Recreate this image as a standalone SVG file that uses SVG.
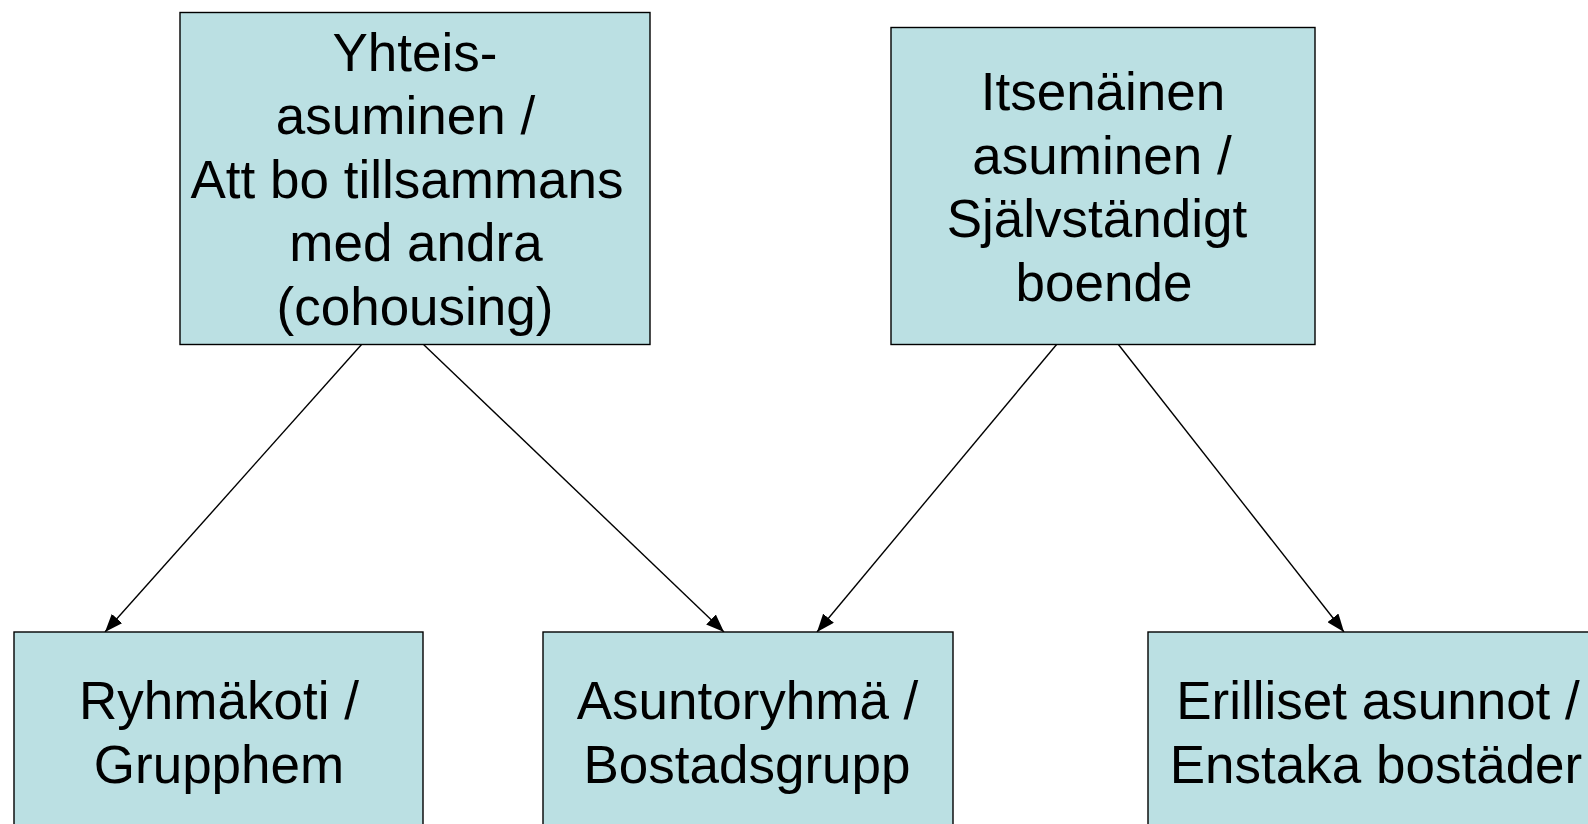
<svg xmlns="http://www.w3.org/2000/svg" width="1588" height="824" viewBox="0 0 1588 824">
<defs>
<style>
.box{fill:#BBE0E3;stroke:#000;stroke-width:1.4}
.t{font-family:"Liberation Sans",Arial,sans-serif;font-size:53px;fill:#000;text-anchor:middle}
.c{stroke:#000;stroke-width:1.4;fill:none;marker-end:url(#ah)}
</style>
<marker id="ah" markerUnits="userSpaceOnUse" markerWidth="20" markerHeight="14" refX="18" refY="7" orient="auto">
<path d="M0,0 L18,7 L0,14 Z" fill="#000"/>
</marker>
</defs>
<rect width="1588" height="824" fill="#fff"/>
<g id="connectors">
<line class="c" x1="362" y1="344" x2="105" y2="632"/>
<line class="c" x1="423" y1="344" x2="724" y2="632"/>
<line class="c" x1="1057" y1="344" x2="817" y2="632"/>
<line class="c" x1="1118" y1="344" x2="1344" y2="632"/>
</g>
<g id="node-yhteis">
<rect class="box" x="180" y="12.5" width="470" height="332"/>
<text class="t"><tspan x="415" y="70.5">Yhteis-</tspan><tspan x="405.5" y="134">asuminen /</tspan><tspan x="407" y="197.5">Att bo tillsammans</tspan><tspan x="416" y="261">med andra</tspan><tspan x="415" y="324.5">(cohousing)</tspan></text>
</g>
<g id="node-itsenainen">
<rect class="box" x="891" y="27.5" width="424" height="317"/>
<text class="t"><tspan x="1103" y="110">Itsenäinen</tspan><tspan x="1102" y="173.7">asuminen /</tspan><tspan x="1097" y="237.3">Självständigt</tspan><tspan x="1104" y="301">boende</tspan></text>
</g>
<g id="node-ryhmakoti">
<rect class="box" x="14" y="632" width="409" height="260"/>
<text class="t"><tspan x="219" y="718.5">Ryhmäkoti /</tspan><tspan x="219" y="783">Grupphem</tspan></text>
</g>
<g id="node-asuntoryhma">
<rect class="box" x="543" y="632" width="410" height="260"/>
<text class="t"><tspan x="747.5" y="718.5">Asuntoryhmä /</tspan><tspan x="747" y="783">Bostadsgrupp</tspan></text>
</g>
<g id="node-erilliset">
<rect class="box" x="1148" y="632" width="470" height="260"/>
<text class="t"><tspan x="1378" y="718.5">Erilliset asunnot /</tspan><tspan x="1376" y="783">Enstaka bostäder</tspan></text>
</g>
</svg>
